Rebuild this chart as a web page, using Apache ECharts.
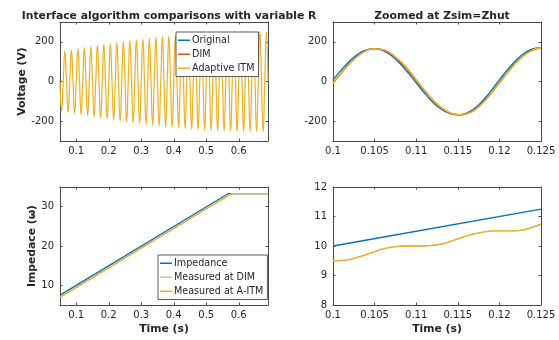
<!DOCTYPE html>
<html>
<head>
<meta charset="utf-8">
<script src="https://cdn.jsdelivr.net/npm/echarts@6/dist/echarts.min.js"></script>
<style>
  html, body { margin: 0; background: #fff; }
  #chart { width: 559px; height: 340px; }
</style>
</head>
<body>
<div id="chart"></div>
<script>
// top-left: 50 Hz voltage, one peak / trough per cycle
const vPeaks = [154, 160, 166, 171, 176, 181, 186, 191, 196, 201, 206, 210, 214, 218, 222, 226,
                229, 232, 235, 238, 240, 242, 244, 246, 248, 249, 250, 251, 251, 252, 252, 252];
const vTroughs = [-148, -155, -161, -167, -173, -178, -184, -189, -194, -199, -204, -209, -213, -217, -221, -225,
                  -229, -232, -235, -238, -241, -243, -245, -247, -249, -250, -251, -252, -253, -253, -254, -254];

// top-right: zoom 0.1 .. 0.125 s, one sample every 1.25 ms
const zoomOriginal = [8, 70, 122, 155, 166, 151, 114, 58, -6, -70, -123, -157, -168, -156, -118, -60, 8, 72, 126, 160, 170];
const zoomDIM      = [-8, 56, 112, 150, 166, 156, 122, 70, 6, -58, -114, -152, -168, -160, -126, -72, -6, 60, 116, 154, 170];
const zoomITM      = [-10, 54, 110, 150, 166, 158, 124, 76, 10, -56, -114, -152, -168, -161, -128, -74, -8, 58, 114, 153, 170];

// bottom-left: impedance ramp
const impTime = [0.05, 0.567, 0.69];
const impedance = [7.5, 33.3, 33.3];
const measTime = [0.05, 0.577, 0.69];
const measured = [7.0, 33.3, 33.3];

// bottom-right: zoom of impedance
const zImpTime = [0.1, 0.125];
const zImp = [10, 11.25];
const zMeasTime = [0.1, 0.1015, 0.103, 0.1045, 0.106, 0.1075, 0.109, 0.1105, 0.112, 0.1135, 0.115,
                   0.1165, 0.118, 0.1195, 0.121, 0.1225, 0.124, 0.125];
const zMeas = [9.5, 9.52, 9.62, 9.76, 9.9, 9.98, 10.0, 10.0, 10.02, 10.1, 10.24,
               10.38, 10.47, 10.51, 10.51, 10.53, 10.64, 10.74];

const xTicksLong = [0.1, 0.2, 0.3, 0.4, 0.5, 0.6];
const xTicksZoom = [0.1, 0.105, 0.11, 0.115, 0.12, 0.125];
const vTicks = [-200, 0, 200];
const impTicks = [10, 20, 30];
const zImpTicks = [8, 9, 10, 11, 12];

const BLUE = '#0072BD', RED = '#D95319', YELLOW = '#EDB120';
const PALE_RED = 'rgba(217,83,25,0.45)';
const FONT = 'DejaVu Sans';
const AX = '#4a4a4a';
const TXT = '#262626';

function waveData() {
  const pts = [[0.05, 0]];
  vPeaks.forEach((p, k) => {
    const t = 0.05 + 0.02 * k;
    pts.push([t + 0.005, vTroughs[k]], [t + 0.01, 0], [t + 0.015, p], [t + 0.02, 0]);
  });
  return pts;
}
const zip = (xs, ys) => xs.map((x, i) => [x, ys[i]]);
const zoomT = zoomOriginal.map((_, i) => 0.1 + i * 0.00125);

const fmt = (v) => String(+v.toFixed(3));

function boxAxes(dim, grid, min, max, ticks, extra) {
  const base = {
    type: 'value', gridIndex: grid, min, max,
    axisLine: { show: true, onZero: false, lineStyle: { color: AX, width: 1 } },
    axisTick: { show: true, inside: true, length: 2.5, customValues: ticks, lineStyle: { color: AX } },
    splitLine: { show: false },
  };
  const main = Object.assign({}, base, {
    position: dim === 'x' ? 'bottom' : 'left',
    axisLabel: { customValues: ticks, fontFamily: FONT, fontSize: 10, color: TXT, margin: dim === 'x' ? 5 : 6, formatter: fmt },
  }, extra || {});
  const opp = Object.assign({}, base, {
    position: dim === 'x' ? 'top' : 'right',
    axisLabel: { show: false },
  });
  return [main, opp];
}

const nameStyle = { fontFamily: FONT, fontSize: 10.8, fontWeight: 'bold', color: TXT };
const timeName = { name: 'Time (s)', nameLocation: 'middle', nameGap: 19, nameTextStyle: nameStyle };

const line = (name, color, data, xi, width, smooth) => ({
  name, type: 'line', data, xAxisIndex: xi, yAxisIndex: xi,
  symbol: 'none', smooth: !!smooth,
  lineStyle: { color, width: width }, itemStyle: { color },
});

const legendBase = {
  orient: 'vertical', backgroundColor: '#fff', borderColor: '#333', borderWidth: 0.8, borderRadius: 0,
  padding: [2, 4, 2, 2], itemGap: 1.5, itemWidth: 12, itemHeight: 1.5, icon: 'rect', z: 20,
  textStyle: { fontFamily: FONT, fontSize: 9.6, color: TXT, lineHeight: 12.5, padding: [0, 0, 0, -3] },
};

const chart = echarts.init(document.getElementById('chart'));
chart.setOption({
  animation: false,
  backgroundColor: '#fff',
  title: [
    { text: 'Interface algorithm comparisons with variable R', left: 164, top: 6, textAlign: 'center',
      textStyle: { fontFamily: FONT, fontSize: 10.8, fontWeight: 'bold', color: TXT } },
    { text: 'Zoomed at Zsim=Zhut', left: 437, top: 6, textAlign: 'center',
      textStyle: { fontFamily: FONT, fontSize: 10.8, fontWeight: 'bold', color: TXT } },
  ],
  grid: [
    { left: 60, top: 22, width: 208, height: 119 },
    { left: 333, top: 22, width: 208, height: 119 },
    { left: 60, top: 187, width: 208, height: 118 },
    { left: 333, top: 187, width: 208, height: 118 },
  ],
  xAxis: [
    ...boxAxes('x', 0, 0.05, 0.69, xTicksLong),
    ...boxAxes('x', 1, 0.1, 0.125, xTicksZoom),
    ...boxAxes('x', 2, 0.05, 0.69, xTicksLong, timeName),
    ...boxAxes('x', 3, 0.1, 0.125, xTicksZoom, timeName),
  ],
  yAxis: [
    ...boxAxes('y', 0, -300, 300, vTicks,
      { name: 'Voltage (V)', nameLocation: 'middle', nameGap: 30, nameTextStyle: nameStyle }),
    ...boxAxes('y', 1, -300, 300, vTicks),
    ...boxAxes('y', 2, 5, 35, impTicks,
      { name: 'Impedace (ω)', nameLocation: 'middle', nameGap: 18, nameTextStyle: nameStyle }),
    ...boxAxes('y', 3, 8, 12, zImpTicks),
  ],
  legend: [
    Object.assign({}, legendBase, { data: ['Original', 'DIM', 'Adaptive ITM'], left: 176, top: 32 }),
    Object.assign({}, legendBase, { data: ['Impedance', 'Measured at DIM', 'Measured at A-ITM'], left: 158, top: 255 }),
  ],
  series: [
    // Original and DIM sit underneath Adaptive ITM at this scale
    line('Adaptive ITM', YELLOW, waveData(), 0, 1.2, true),

    line('Original', BLUE, zip(zoomT, zoomOriginal), 2, 1.4, true),
    line('DIM', RED, zip(zoomT, zoomDIM), 2, 1.4, true),
    line('Adaptive ITM', YELLOW, zip(zoomT, zoomITM), 2, 1.4, true),

    line('Impedance', BLUE, zip(impTime, impedance), 4, 1.3),
    line('Measured at DIM', PALE_RED, zip(measTime, measured), 4, 1.3),
    line('Measured at A-ITM', YELLOW, zip(measTime, measured), 4, 1.3),

    line('Impedance', BLUE, zip(zImpTime, zImp), 6, 1.3),
    line('Measured at DIM', PALE_RED, zip(zMeasTime, zMeas), 6, 1.3, true),
    line('Measured at A-ITM', YELLOW, zip(zMeasTime, zMeas), 6, 1.3, true),
  ],
});
</script>
</body>
</html>
